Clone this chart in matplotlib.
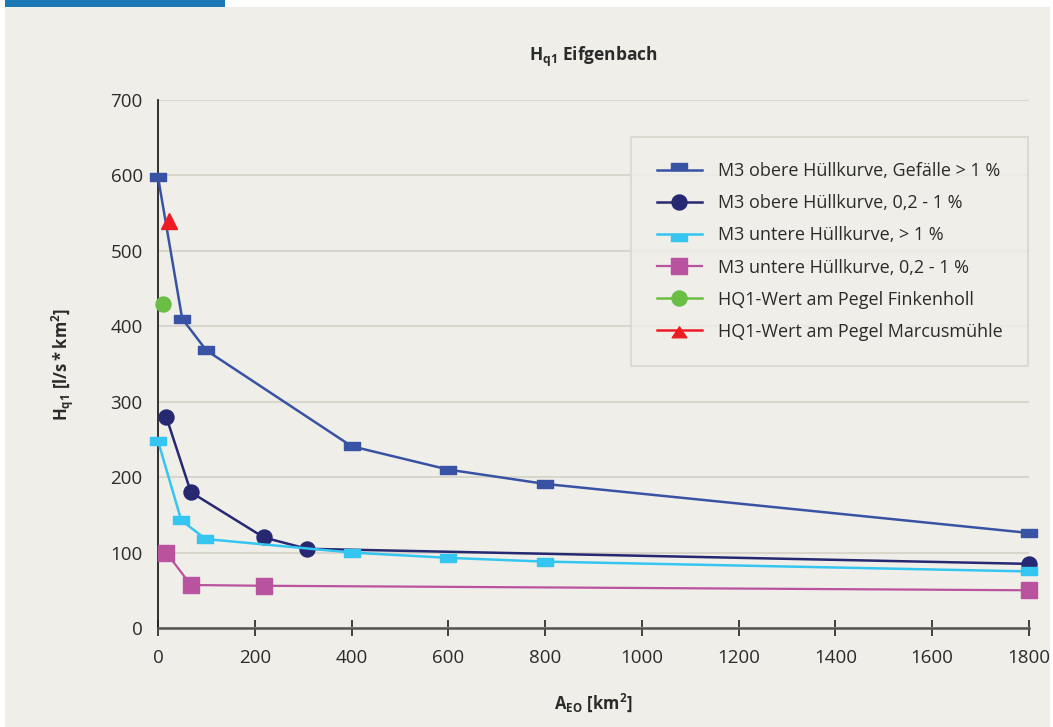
import matplotlib
matplotlib.use("Agg")
import matplotlib.pyplot as plt
from matplotlib.path import Path
from matplotlib.patches import Rectangle
from matplotlib.lines import Line2D

plt.rcParams['font.family'] = ['Open Sans', 'DejaVu Sans']
plt.rcParams['mathtext.fontset'] = 'custom'
plt.rcParams['mathtext.rm'] = 'Open Sans'
plt.rcParams['mathtext.bf'] = 'Open Sans:bold'
plt.rcParams['mathtext.it'] = 'Open Sans:italic'

# ---- data ----
x_m3_oben_gt1 = [0, 50, 100, 400, 600, 800, 1800]
y_m3_oben_gt1 = [598, 410, 368, 241, 210, 191, 126]

x_m3_oben_02 = [17, 68, 219, 308, 1800]
y_m3_oben_02 = [280, 180, 120, 105, 85]

x_m3_unten_gt1 = [0, 48, 98, 400, 600, 800, 1800]
y_m3_unten_gt1 = [248, 143, 118, 100, 93, 88, 75]

x_m3_unten_02 = [17, 68, 219, 1800]
y_m3_unten_02 = [100, 57, 56, 50]

x_finkenholl = [10]
y_finkenholl = [430]

x_marcus = [23]
y_marcus = [540]

labels = ["M3 obere Hüllkurve, Gefälle > 1 %",
          "M3 obere Hüllkurve, 0,2 - 1 %",
          "M3 untere Hüllkurve, > 1 %",
          "M3 untere Hüllkurve, 0,2 - 1 %",
          "HQ1-Wert am Pegel Finkenholl",
          "HQ1-Wert am Pegel Marcusmühle"]

x_ticks = list(range(0, 2000, 200))
y_ticks = list(range(0, 800, 100))

BG = '#efeee9'
GRID = '#d9d7cc'
TXT = '#2b2b2b'
C_BLUE = '#3953a4'
C_NAVY = '#262871'
C_CYAN = '#35c5f1'
C_MAG = '#b9529f'
C_GREEN = '#6abd45'
C_RED = '#ed1c24'

W, H = 1053, 727
fig = plt.figure(figsize=(W/100, H/100), dpi=100, facecolor='white')
fig.patches.append(Rectangle((5/W, 0), (1050-5)/W, 1-7/H, transform=fig.transFigure,
                             facecolor=BG, edgecolor='none', zorder=-10))
fig.patches.append(Rectangle((5/W, 1-7/H), (225-5)/W, 7/H, transform=fig.transFigure,
                             facecolor='#1a79b4', edgecolor='none', zorder=-9))

ax = fig.add_axes([158/W, 1-628/H, (1029-158)/W, (628-100)/H])
ax.set_facecolor(BG)
ax.patch.set_alpha(0)

codes = [Path.MOVETO, Path.LINETO, Path.LINETO, Path.LINETO, Path.CLOSEPOLY]
rect = Path([(-1, -0.45), (1, -0.45), (1, 0.45), (-1, 0.45), (-1, -0.45)], codes)
rect_up = Path([(-1, 0), (1, 0), (1, 0.9), (-1, 0.9), (-1, 0)], codes)
rect_dn = Path([(-1, -0.9), (1, -0.9), (1, 0), (-1, 0), (-1, -0.9)], codes)
tri_dn = Path([(0, 0.5), (-1, -1), (1, -1), (0, 0.5)],
              [Path.MOVETO, Path.LINETO, Path.LINETO, Path.CLOSEPOLY])

l1, = ax.plot(x_m3_oben_gt1, y_m3_oben_gt1, color=C_BLUE, lw=1.8, marker=rect,
              markersize=11.5, clip_on=False, zorder=3)
l2, = ax.plot(x_m3_oben_02, y_m3_oben_02, color=C_NAVY, lw=1.8, marker='o',
              markersize=10.8, clip_on=False, zorder=3)
l3, = ax.plot(x_m3_unten_gt1, y_m3_unten_gt1, color=C_CYAN, lw=1.8, marker=rect,
              markersize=11.5, clip_on=False, zorder=3)
l4, = ax.plot(x_m3_unten_02, y_m3_unten_02, color=C_MAG, lw=1.6, marker='s',
              markersize=11.5, clip_on=False, zorder=3)
l5, = ax.plot(x_finkenholl, y_finkenholl, color=C_GREEN, lw=1.8, marker='o',
              markersize=10.8, clip_on=False, zorder=3)
l6, = ax.plot(x_marcus, y_marcus, color=C_RED, lw=1.8, marker='^',
              markersize=11, clip_on=False, zorder=3)

h1 = Line2D([], [], color=C_BLUE, lw=1.8, marker=rect_up, markersize=11.5)
h3 = Line2D([], [], color=C_CYAN, lw=1.8, marker=rect_dn, markersize=11.5)
h6 = Line2D([], [], color=C_RED, lw=1.8, marker=tri_dn, markersize=10.5)

ax.set_xlim(0, 1800)
ax.set_ylim(0, 700)
ax.set_xticks(x_ticks)
ax.set_yticks(y_ticks)
ax.grid(axis='y', color=GRID, lw=1.5, zorder=0)
ax.set_axisbelow(True)
for s in ['top', 'right']:
    ax.spines[s].set_visible(False)
ax.spines['left'].set_color('#222222')
ax.spines['left'].set_linewidth(1.3)
ax.spines['bottom'].set_color('#555555')
ax.spines['bottom'].set_linewidth(1.8)
ax.tick_params(axis='x', direction='inout', length=12, width=1.3, color='#333333',
               labelsize=13.5, labelcolor=TXT, pad=9)
ax.tick_params(axis='y', length=0, labelsize=13.5, labelcolor=TXT, pad=11)

ax.set_title(r'$\mathbf{H_{q1}}$ Eifgenbach', fontsize=12.5, fontweight='bold',
             color=TXT, pad=28)
ax.set_xlabel(r'$\mathbf{A_{EO}\ [km^{2}]}$', fontsize=12, color=TXT, labelpad=18)
ax.set_ylabel(r'$\mathbf{H_{q1}\ [l/s*km^{2}]}$', fontsize=12, color=TXT, labelpad=25)

leg = ax.legend([h1, l2, h3, l4, l5, h6], labels,
                loc='upper right', bbox_to_anchor=(1028/W, 1-137/H),
                bbox_transform=fig.transFigure, borderaxespad=0,
                frameon=True, fancybox=False, facecolor=BG, edgecolor=GRID,
                fontsize=13, handlelength=2.5, handletextpad=0.9,
                labelspacing=0.78, borderpad=1.4, labelcolor=TXT)
leg.get_frame().set_linewidth(1.5)

fig.savefig('out.png', dpi=100, facecolor='white')
